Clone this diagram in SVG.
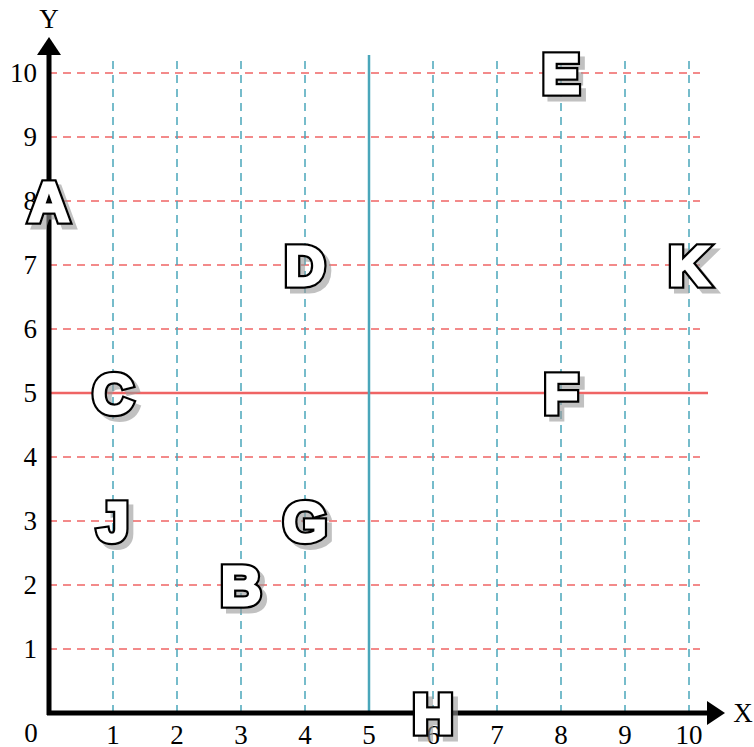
<svg xmlns="http://www.w3.org/2000/svg" width="754" height="747" viewBox="0 0 754 747">
<defs>
<style>
.gr{stroke:#ef6464;stroke-width:1.5;stroke-dasharray:8,6;fill:none}
.gb{stroke:#4aa6ba;stroke-width:1.5;stroke-dasharray:8,6;fill:none}
.ax{stroke:#000;stroke-width:5;fill:none}
.tk{font-family:"Liberation Serif","Times New Roman",serif;font-size:27px;fill:#000}
.lb{font-family:"Liberation Sans",Arial,sans-serif;font-weight:bold;font-size:56px;text-anchor:middle}
.sh{fill:#999;stroke:#999;stroke-width:7;stroke-linejoin:miter;opacity:0.6}
.ol{fill:#000;stroke:#000;stroke-width:7.5;stroke-linejoin:miter}
.fg{fill:#fff;stroke:#fff;stroke-width:3;stroke-linejoin:miter}
</style>
</defs>
<rect width="754" height="747" fill="#fff"/>
<g id="grid">
<path class="gr" d="M49 73H700M49 137H700M49 201H700M49 265H700M49 329H700M49 457H700M49 521H700M49 585H700M49 649H700"/>
<path class="gb" d="M113 713V55M177 713V55M241 713V55M305 713V55M433 713V55M497 713V55M561 713V55M625 713V55M689 713V55"/>
<path d="M49 393H708" stroke="#ef6464" stroke-width="2.5"/>
<path d="M369 713V55" stroke="#4aa6ba" stroke-width="2.5"/>
</g>
<g id="axes">
<path class="ax" d="M49 715V52M47 713H710"/>
<polygon points="37,55 61,55 49,37"/>
<polygon points="707,701 707,725 725,713"/>
<text class="tk" x="49" y="28" text-anchor="middle">Y</text>
<text class="tk" x="743" y="722" text-anchor="middle">X</text>
</g>
<g id="ticks">
<text class="tk" x="31" y="742" text-anchor="middle">0</text>
<text class="tk" text-anchor="middle" x="113" y="744">1</text><text class="tk" text-anchor="middle" x="177" y="744">2</text><text class="tk" text-anchor="middle" x="241" y="744">3</text><text class="tk" text-anchor="middle" x="305" y="744">4</text><text class="tk" text-anchor="middle" x="369" y="744">5</text><text class="tk" text-anchor="middle" x="433" y="744">6</text><text class="tk" text-anchor="middle" x="497" y="744">7</text><text class="tk" text-anchor="middle" x="561" y="744">8</text><text class="tk" text-anchor="middle" x="625" y="744">9</text><text class="tk" text-anchor="middle" x="689" y="744">10</text>
<text class="tk" text-anchor="end" x="37" y="82">10</text><text class="tk" text-anchor="end" x="37" y="146">9</text><text class="tk" text-anchor="end" x="37" y="210">8</text><text class="tk" text-anchor="end" x="37" y="274">7</text><text class="tk" text-anchor="end" x="37" y="338">6</text><text class="tk" text-anchor="end" x="37" y="402">5</text><text class="tk" text-anchor="end" x="37" y="466">4</text><text class="tk" text-anchor="end" x="37" y="530">3</text><text class="tk" text-anchor="end" x="37" y="594">2</text><text class="tk" text-anchor="end" x="37" y="658">1</text>
</g>
<g id="A" class="lb"><text class="sh" x="54" y="226">A</text><text class="ol" x="49" y="221">A</text><text class="fg" x="49" y="221">A</text></g>
<g id="B" class="lb"><text class="sh" x="246" y="610">B</text><text class="ol" x="241" y="605">B</text><text class="fg" x="241" y="605">B</text></g>
<g id="C" class="lb"><text class="sh" x="118" y="418">C</text><text class="ol" x="113" y="413">C</text><text class="fg" x="113" y="413">C</text></g>
<g id="D" class="lb"><text class="sh" x="310" y="290">D</text><text class="ol" x="305" y="285">D</text><text class="fg" x="305" y="285">D</text></g>
<g id="E" class="lb"><text class="sh" x="566" y="98">E</text><text class="ol" x="561" y="93">E</text><text class="fg" x="561" y="93">E</text></g>
<g id="F" class="lb"><text class="sh" x="566" y="418">F</text><text class="ol" x="561" y="413">F</text><text class="fg" x="561" y="413">F</text></g>
<g id="G" class="lb"><text class="sh" x="310" y="546">G</text><text class="ol" x="305" y="541">G</text><text class="fg" x="305" y="541">G</text></g>
<g id="H" class="lb"><text class="sh" x="438" y="738">H</text><text class="ol" x="433" y="733">H</text><text class="fg" x="433" y="733">H</text></g>
<g id="J" class="lb"><text class="sh" x="118" y="546">J</text><text class="ol" x="113" y="541">J</text><text class="fg" x="113" y="541">J</text></g>
<g id="K" class="lb"><text class="sh" x="694" y="290">K</text><text class="ol" x="689" y="285">K</text><text class="fg" x="689" y="285">K</text></g>
</svg>
